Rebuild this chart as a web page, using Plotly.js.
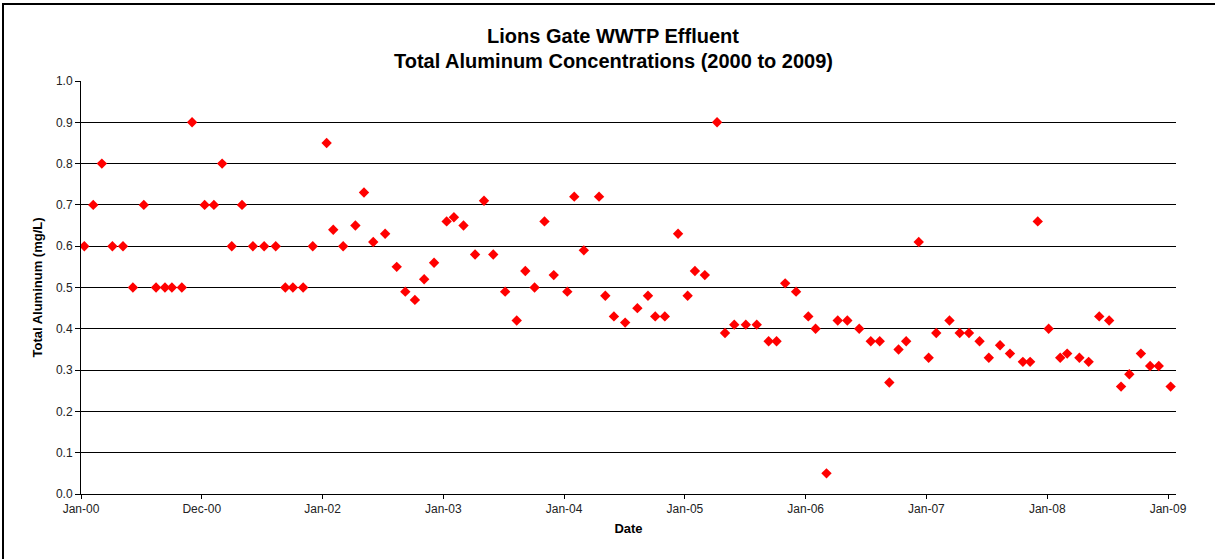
<!DOCTYPE html>
<html>
<head>
<meta charset="utf-8">
<script src="https://cdn.plot.ly/plotly-3.0.1.min.js"></script>
<style>
  html, body { margin: 0; padding: 0; background: #fff; overflow: hidden; }
  #wrap { position: relative; width: 1215px; height: 559px; overflow: hidden; }
  #chart { width: 1215px; height: 559px; }
  #frame { position: absolute; left: 2px; top: 3px; width: 1400px; height: 800px;
           border-left: 2px solid #000; border-top: 2px solid #000; pointer-events: none; }
</style>
</head>
<body>
<div id="wrap">
  <div id="chart"></div>
  <div id="frame"></div>
</div>
<script>
const titleLine1 = "Lions Gate WWTP Effluent";
const titleLine2 = "Total Aluminum Concentrations (2000 to 2009)";
const sampleDates = [
  "2000-01-11","2000-02-07","2000-03-04","2000-04-05","2000-05-07","2000-06-06","2000-07-09","2000-08-15","2000-09-11","2000-10-02","2000-11-01","2000-12-02",
  "2001-01-09","2001-02-06","2001-03-03","2001-04-01","2001-05-02","2001-06-04","2001-07-08","2001-08-12","2001-09-10","2001-10-03","2001-11-03","2001-12-02",
  "2002-01-13","2002-02-02","2002-03-04","2002-04-10","2002-05-06","2002-06-03","2002-07-09","2002-08-13","2002-09-08","2002-10-07","2002-11-04","2002-12-04",
  "2003-01-11","2003-02-02","2003-03-03","2003-04-07","2003-05-04","2003-06-01","2003-07-07","2003-08-11","2003-09-06","2003-10-04","2003-11-03","2003-12-01",
  "2004-01-11","2004-02-01","2004-03-01","2004-04-16","2004-05-05","2004-05-31","2004-07-04","2004-08-10","2004-09-11","2004-10-03","2004-11-01","2004-12-11",
  "2005-01-09","2005-01-31","2005-03-02","2005-04-08","2005-05-02","2005-05-30","2005-07-04","2005-08-06","2005-09-11","2005-10-05","2005-10-31","2005-12-03",
  "2006-01-09","2006-01-31","2006-03-05","2006-04-08","2006-05-07","2006-06-12","2006-07-17","2006-08-13","2006-09-11","2006-10-09","2006-11-01","2006-12-09",
  "2007-01-08","2007-01-31","2007-03-12","2007-04-12","2007-05-10","2007-06-11","2007-07-09","2007-08-12","2007-09-11","2007-10-20","2007-11-11","2007-12-04",
  "2008-01-06","2008-02-10","2008-03-02","2008-04-08","2008-05-06","2008-06-07","2008-07-07","2008-08-12","2008-09-06","2008-10-11","2008-11-08","2008-12-04",
  "2009-01-09"
];
const aluminum = [
  0.6,0.7,0.8,0.6,0.6,0.5,0.7,0.5,0.5,0.5,0.5,0.9,
  0.7,0.7,0.8,0.6,0.7,0.6,0.6,0.6,0.5,0.5,0.5,0.6,
  0.85,0.64,0.6,0.65,0.73,0.61,0.63,0.55,0.49,0.47,0.52,0.56,
  0.66,0.67,0.65,0.58,0.71,0.58,0.49,0.42,0.54,0.5,0.66,0.53,
  0.49,0.72,0.59,0.72,0.48,0.43,0.415,0.45,0.48,0.43,0.43,0.63,
  0.48,0.54,0.53,0.9,0.39,0.41,0.41,0.41,0.37,0.37,0.51,0.49,
  0.43,0.40,0.05,0.42,0.42,0.40,0.37,0.37,0.27,0.35,0.37,0.61,
  0.33,0.39,0.42,0.39,0.39,0.37,0.33,0.36,0.34,0.32,0.32,0.66,
  0.40,0.33,0.34,0.33,0.32,0.43,0.42,0.26,0.29,0.34,0.31,0.31,
  0.26
];
const xTickLabels = ["Jan-00","Dec-00","Jan-02","Jan-03","Jan-04","Jan-05","Jan-06","Jan-07","Jan-08","Jan-09"];

// Axis tick positions: evenly spaced from 1 Jan 2000 to 1 Jan 2009 (Excel-style major unit)
const t0 = Date.UTC(2000, 0, 1);
const t1 = Date.UTC(2009, 0, 1);
const step = (t1 - t0) / 9;
const xTickVals = xTickLabels.map((_, i) => t0 + i * step);
const xEnd = t0 + (t1 - t0) * (1175.7 - 81) / (1167.7 - 81);

const FONT = "Liberation Sans, Arial, Helvetica, sans-serif";
const W = 1215, H = 559;
const M = { l: 81, r: 39, t: 81, b: 65 };
const plotW = W - M.l - M.r, plotH = H - M.t - M.b;
const titleCenterX = 613;

const trace = {
  type: "scatter",
  mode: "markers",
  x: sampleDates,
  y: aluminum,
  marker: { symbol: "diamond", size: 8, color: "#ff0000", line: { width: 0 } },
  hoverinfo: "x+y",
  showlegend: false
};

const layout = {
  width: W,
  height: H,
  paper_bgcolor: "#ffffff",
  plot_bgcolor: "#ffffff",
  margin: M,
  font: { family: FONT, color: "#000" },
  title: {
    text: "<b>" + titleLine1 + "</b>",
    font: { family: FONT, size: 20, color: "#000" },
    x: titleCenterX / W,
    xref: "container",
    xanchor: "center",
    y: 1 - 36 / H,
    yref: "container",
    yanchor: "middle"
  },
  annotations: [{
    text: "<b>" + titleLine2 + "</b>",
    font: { family: FONT, size: 20, color: "#000" },
    showarrow: false,
    xref: "paper",
    yref: "paper",
    x: (titleCenterX - M.l) / plotW,
    y: 1 + (M.t - 61) / plotH,
    xanchor: "center",
    yanchor: "middle"
  }],
  xaxis: {
    type: "date",
    range: [t0, xEnd],
    tickmode: "array",
    tickvals: xTickVals,
    ticktext: xTickLabels,
    ticks: "outside",
    ticklen: 4,
    tickwidth: 1,
    tickcolor: "#000",
    showline: true,
    linecolor: "#000",
    linewidth: 1,
    showgrid: false,
    zeroline: false,
    tickfont: { family: FONT, size: 12, color: "#222" },
    title: { text: "<b>Date</b>", font: { family: FONT, size: 13, color: "#000" }, standoff: 8 },
    automargin: false,
    fixedrange: true
  },
  yaxis: {
    range: [0, 1],
    tickmode: "linear",
    tick0: 0,
    dtick: 0.1,
    tickformat: ".1f",
    ticks: "outside",
    ticklen: 5,
    tickwidth: 1,
    tickcolor: "#000",
    showline: true,
    linecolor: "#000",
    linewidth: 1,
    showgrid: true,
    gridcolor: "#000",
    gridwidth: 1,
    zeroline: false,
    tickfont: { family: FONT, size: 12, color: "#222" },
    title: { text: "<b>Total Aluminum (mg/L)</b>", font: { family: FONT, size: 13, color: "#000" }, standoff: 10 },
    automargin: false,
    fixedrange: true
  }
};

Plotly.newPlot("chart", [trace], layout, { displayModeBar: false, staticPlot: true });
</script>
</body>
</html>
